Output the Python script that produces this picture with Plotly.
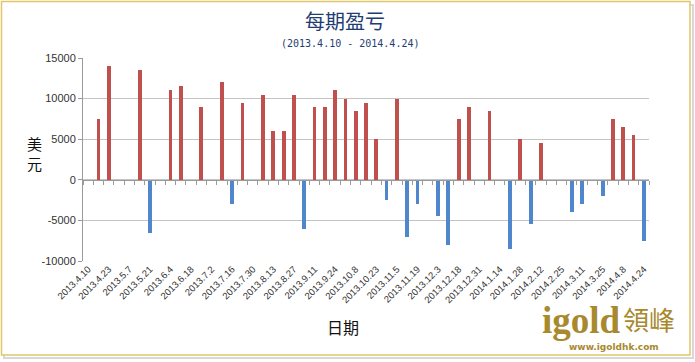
import plotly.graph_objects as go

# ---------------- data ----------------
dates = [
    "2013.4.10", "2013.4.16", "2013.4.23", "2013.4.30", "2013.5.7", "2013.5.14",
    "2013.5.21", "2013.5.28", "2013.6.4", "2013.6.11", "2013.6.18", "2013.6.25",
    "2013.7.2", "2013.7.9", "2013.7.16", "2013.7.23", "2013.7.30", "2013.8.6",
    "2013.8.13", "2013.8.20", "2013.8.27", "2013.9.3", "2013.9.11", "2013.9.17",
    "2013.9.24", "2013.10.2", "2013.10.8", "2013.10.15", "2013.10.23", "2013.10.29",
    "2013.11.5", "2013.11.12", "2013.11.19", "2013.11.26", "2013.12.3", "2013.12.10",
    "2013.12.18", "2013.12.24", "2013.12.31", "2014.1.7", "2014.1.14", "2014.1.21",
    "2014.1.28", "2014.2.5", "2014.2.12", "2014.2.18", "2014.2.25", "2014.3.4",
    "2014.3.11", "2014.3.18", "2014.3.25", "2014.4.1", "2014.4.8", "2014.4.15",
    "2014.4.24",
]
pnl = [
    0, 7500, 14000, 0, 0, 13500, -6500, 0, 11000, 11500, 0,
    9000, 0, 12000, -3000, 9500, 0, 10500, 6000, 6000, 10500,
    -6000, 9000, 9000, 11000, 10000, 8500, 9500, 5000, -2500, 10000,
    -7000, -3000, 0, -4500, -8000, 7500, 9000, 0, 8500, 0,
    -8500, 5000, -5500, 4500, 0, 0, -4000, -3000, 0, -2000,
    7500, 6500, 5500, -7500,
]
tick_labels = dates[::2]
y_ticks = [-10000, -5000, 0, 5000, 10000, 15000]

title_text = "每期盈亏"
subtitle_text = "(2013.4.10 - 2014.4.24)"
x_title = "日期"
y_title = "美元"

# ---------------- style ----------------
RED = "#C0504D"
BLUE = "#4F86CC"
GOLD = "#A8892E"
NAVY = "#1F3D73"

W, H = 695, 362
ML, MR, MT, MB = 83, 46, 58, 101
pw, ph = W - ML - MR, H - MT - MB
ymin, ymax = y_ticks[0], y_ticks[-1]


def px_x(p):
    return (p - ML) / pw


def px_y(p):
    return (H - MB - p) / ph


colors = [RED if v >= 0 else BLUE for v in pnl]

fig = go.Figure()
fig.add_trace(go.Bar(
    x=dates, y=pnl, marker=dict(color=colors, line=dict(width=0)),
    width=0.37, showlegend=False, hoverinfo="x+y",
))
# helper trace for the zero-line category axis
fig.add_trace(go.Scatter(x=[None], y=[None], xaxis="x2", yaxis="y",
                         showlegend=False, hoverinfo="skip"))

n = len(dates)
fig.update_layout(
    width=W, height=H,
    margin=dict(l=ML, r=MR, t=MT, b=MB),
    paper_bgcolor="white", plot_bgcolor="white",
    bargap=0,
    xaxis=dict(
        type="category", categoryorder="array", categoryarray=dates,
        range=[-0.5, n - 0.5],
        tickmode="array", tickvals=tick_labels, ticktext=tick_labels,
        tickangle=-45, tickfont=dict(family="Liberation Sans, Arial", size=9.5, color="#333333"),
        showgrid=False, showline=False, ticks="", zeroline=False,
    ),
    xaxis2=dict(
        overlaying="x", anchor="free", position=(0 - ymin) / (ymax - ymin),
        range=[-0.5, n - 0.5], type="linear",
        tickmode="array", tickvals=[i - 0.5 for i in range(n + 1)],
        ticks="outside", ticklen=4, tickcolor="#9A9A9A", tickwidth=1,
        showline=True, linecolor="#9A9A9A", linewidth=1,
        showticklabels=False, showgrid=False, zeroline=False,
    ),
    yaxis=dict(
        range=[ymin, ymax], tickmode="array", tickvals=y_ticks,
        ticktext=[str(v) for v in y_ticks],
        tickfont=dict(family="Liberation Sans, Arial", size=11, color="#333333"),
        showgrid=True, gridcolor="#C4C4C4", gridwidth=1,
        showline=True, linecolor="#9A9A9A", linewidth=1,
        ticks="outside", ticklen=4, tickcolor="#9A9A9A",
        zeroline=False,
    ),
    font=dict(family="Noto Sans CJK SC"),
)

# frame + shadow
fig.add_shape(type="rect", xref="paper", yref="paper",
              x0=px_x(4), x1=px_x(693), y0=px_y(358), y1=px_y(5),
              line=dict(color="#D8D8D8", width=2), layer="below")
fig.add_shape(type="rect", xref="paper", yref="paper",
              x0=px_x(1.5), x1=px_x(690), y0=px_y(355), y1=px_y(1.5),
              line=dict(color="#E2C66A", width=1.5), fillcolor="white", layer="below")

# titles
fig.add_annotation(xref="paper", yref="paper", x=px_x(345), y=px_y(20),
                   text=title_text, showarrow=False, xanchor="center", yanchor="middle",
                   font=dict(family="Noto Sans CJK SC", size=20, color=NAVY))
fig.add_annotation(xref="paper", yref="paper", x=px_x(350), y=px_y(43),
                   text=subtitle_text, showarrow=False, xanchor="center", yanchor="middle",
                   font=dict(family="DejaVu Sans Mono", size=10, color=NAVY))
fig.add_annotation(xref="paper", yref="paper", x=px_x(343), y=px_y(327),
                   text=x_title, showarrow=False, xanchor="center", yanchor="middle",
                   font=dict(family="Noto Sans CJK SC", size=16, color="#111111"))
fig.add_annotation(xref="paper", yref="paper", x=px_x(34), y=px_y(153),
                   text="<br>".join(list(y_title)), showarrow=False,
                   xanchor="center", yanchor="middle",
                   font=dict(family="Noto Sans CJK SC", size=15, color="#111111"))

# logo
fig.add_annotation(xref="paper", yref="paper", x=px_x(581), y=px_y(320),
                   text="<b>igold</b>", showarrow=False, xanchor="center", yanchor="middle",
                   font=dict(family="Liberation Serif", size=37, color=GOLD))
fig.add_annotation(xref="paper", yref="paper", x=px_x(649), y=px_y(318),
                   text="領峰", showarrow=False, xanchor="center", yanchor="middle",
                   font=dict(family="Noto Sans CJK TC", size=26, color=GOLD))
fig.add_annotation(xref="paper", yref="paper", x=px_x(614), y=px_y(347),
                   text="<b>www.igoldhk.com</b>", showarrow=False, xanchor="center", yanchor="middle",
                   font=dict(family="DejaVu Sans", size=9, color=GOLD))

fig.write_html("out.html", config={"displayModeBar": False},
               post_script="document.body.style.margin='0';")
